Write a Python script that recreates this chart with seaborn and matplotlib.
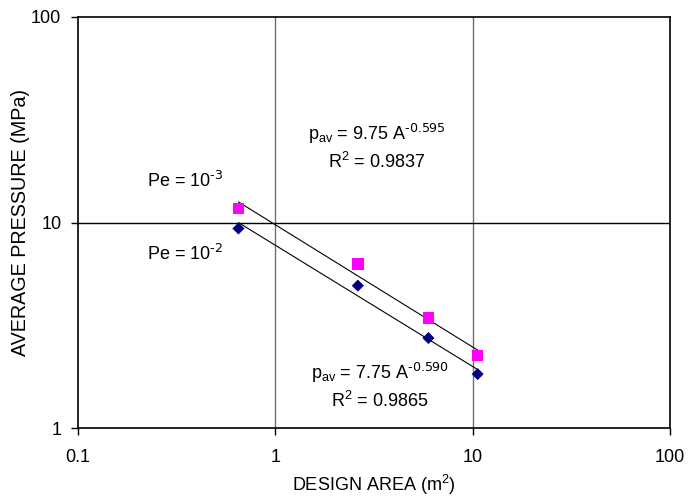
import seaborn as sns
import matplotlib.pyplot as plt
import numpy as np
import pandas as pd

# design area (m2) and average pressure (MPa)
area = [0.65, 2.62, 5.97, 10.6]
p_pe3 = [11.7, 6.27, 3.44, 2.25]   # Pe = 1e-3
p_pe2 = [9.35, 4.93, 2.74, 1.83]   # Pe = 1e-2

# power-law trendlines
fit_pe3 = (9.75, -0.595)
fit_pe2 = (7.75, -0.590)

sns.set_style("white")
plt.rcParams['font.family'] = ['Liberation Sans', 'DejaVu Sans']
plt.rcParams['mathtext.default'] = 'regular'
plt.rcParams['font.size'] = 13
plt.rcParams['text.color'] = 'black'
plt.rcParams['axes.labelcolor'] = 'black'
plt.rcParams['xtick.color'] = 'black'
plt.rcParams['ytick.color'] = 'black'

fig = plt.figure(figsize=(6.88, 4.97), dpi=100)
ax = fig.add_axes([0.1134, 0.1388, 0.8604, 0.827])

ax.set_xscale('log')
ax.set_yscale('log')
ax.set_xlim(0.1, 100)
ax.set_ylim(1, 100)

# gridlines (major only)
for gx in [1, 10]:
    ax.axvline(gx, color='#707070', lw=1.0, zorder=0)
ax.axhline(10, color='black', lw=1.0, zorder=0)

# trendlines
xs = np.array([area[0], area[-1]])
df_fit = pd.DataFrame({
    'x': np.concatenate([xs, xs]),
    'y': np.concatenate([fit_pe3[0] * xs ** fit_pe3[1], fit_pe2[0] * xs ** fit_pe2[1]]),
    's': ['a', 'a', 'b', 'b'],
})
sns.lineplot(data=df_fit, x='x', y='y', units='s', estimator=None,
             color='black', lw=0.8, ax=ax, zorder=2)

sns.scatterplot(x=area, y=p_pe3, marker='s', color='#FF00FF', s=70,
                edgecolor='none', ax=ax, zorder=3)
sns.scatterplot(x=area, y=p_pe2, marker='D', color='#000080', s=38,
                edgecolor='none', ax=ax, zorder=3)

ax.set_xticks([0.1, 1, 10, 100])
ax.set_xticklabels(['0.1', '1', '10', '100'])
ax.set_yticks([1, 10, 100])
ax.set_yticklabels(['1', '10', '100'])
ax.minorticks_off()
ax.tick_params(axis='both', which='major', direction='out', length=5,
               width=1, color='black', labelcolor='black', labelsize=13,
               left=True, bottom=True)
ax.tick_params(axis='x', pad=10)
ax.tick_params(axis='y', pad=7)

for sp in ax.spines.values():
    sp.set_color('black')
    sp.set_linewidth(1.2)

ax.set_xlabel('DESIGN AREA (m$^2$)', fontsize=13, labelpad=5, color='black')
ax.set_ylabel('AVERAGE PRESSURE (MPa)', fontsize=14.2, labelpad=1, color='black')

ax.text(0.348, 16.0, r'Pe = 10$^{\text{-3}}$', ha='center', va='center', fontsize=13)
ax.text(0.348, 7.07, r'Pe = 10$^{\text{-2}}$', ha='center', va='center', fontsize=13)
ax.text(3.27, 27.1, r'p$_{av}$ = 9.75 A$^{\text{-0.595}}$', ha='center', va='center', fontsize=13)
ax.text(3.27, 19.6, 'R$^2$ = 0.9837', ha='center', va='center', fontsize=13)
ax.text(3.38, 1.86, r'p$_{av}$ = 7.75 A$^{\text{-0.590}}$', ha='center', va='center', fontsize=13)
ax.text(3.38, 1.36, 'R$^2$ = 0.9865', ha='center', va='center', fontsize=13)

fig.savefig('out.png', dpi=100)
